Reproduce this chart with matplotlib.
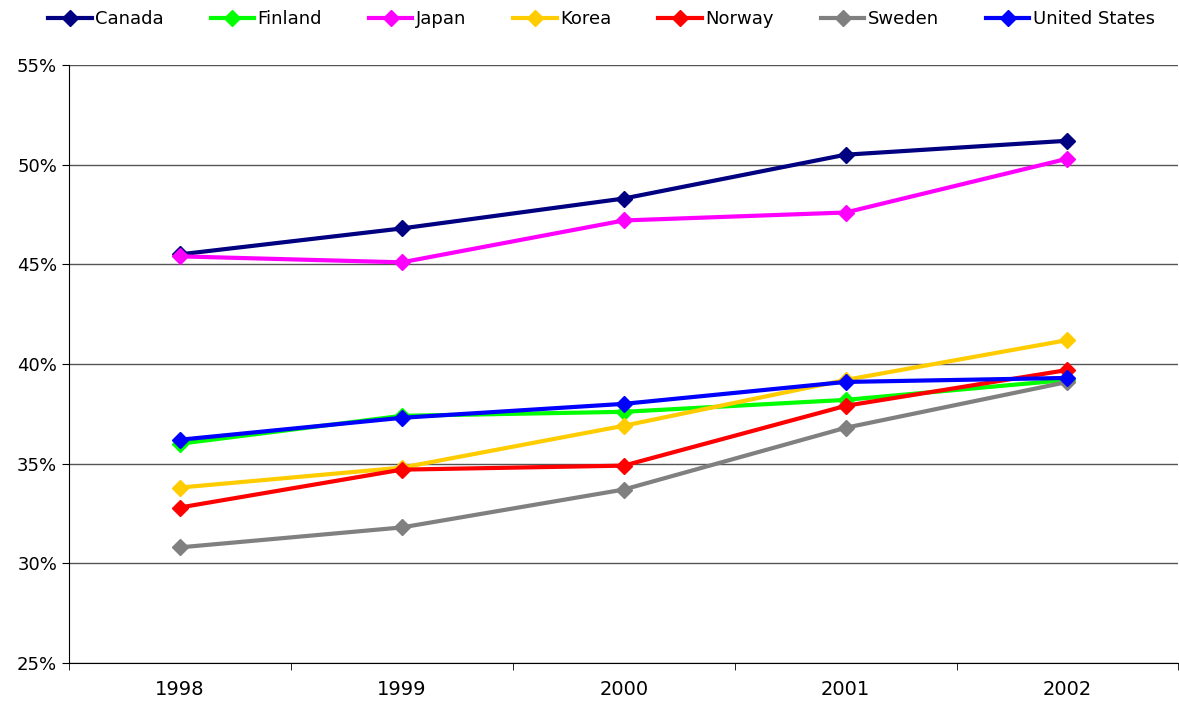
import matplotlib.pyplot as plt
import numpy as np
from matplotlib.ticker import FixedLocator, PercentFormatter

years = ["1998", "1999", "2000", "2001", "2002"]

canada = [45.5, 46.8, 48.3, 50.5, 51.2]
finland = [36.0, 37.4, 37.6, 38.2, 39.2]
japan = [45.4, 45.1, 47.2, 47.6, 50.3]
korea = [33.8, 34.8, 36.9, 39.2, 41.2]
norway = [32.8, 34.7, 34.9, 37.9, 39.7]
sweden = [30.8, 31.8, 33.7, 36.8, 39.1]
united_states = [36.2, 37.3, 38.0, 39.1, 39.3]

series = [
    ("Canada", canada, "#000080"),
    ("Finland", finland, "#00ff00"),
    ("Japan", japan, "#ff00ff"),
    ("Korea", korea, "#ffcc00"),
    ("Norway", norway, "#ff0000"),
    ("Sweden", sweden, "#808080"),
    ("United States", united_states, "#0000ff"),
]

plt.rcParams["font.family"] = "DejaVu Sans"
fig = plt.figure(figsize=(11.79, 7.05), dpi=100)
ax = fig.add_axes([0.0585, 0.0596, 0.941, 0.8482])

x = np.arange(len(years))
for name, vals, col in series:
    ax.plot(x, vals, color=col, lw=3, marker="D", ms=8, label=name)

ax.set_xlim(-0.5, len(years) - 0.5)
ax.set_ylim(25, 55)
ax.set_yticks(np.arange(25, 56, 5))
ax.yaxis.set_major_formatter(PercentFormatter(decimals=0))
ax.set_xticks(x)
ax.set_xticklabels(years)
ax.xaxis.set_minor_locator(FixedLocator(np.arange(-0.5, len(years), 1)))
ax.tick_params(axis="x", which="major", length=0, pad=12, labelsize=14)
ax.tick_params(axis="x", which="minor", length=5, direction="out")
ax.tick_params(axis="y", length=5, direction="out", labelsize=13)
ax.grid(axis="y", color="#555555", lw=1)
ax.set_axisbelow(True)
for s in ["top", "right"]:
    ax.spines[s].set_visible(False)

ax.legend(loc="lower center", bbox_to_anchor=(0.48, 1.05), ncol=7, frameon=False,
          fontsize=13, handlelength=2.4, columnspacing=2.6, handletextpad=0.2,
          borderaxespad=0)

fig.savefig("out.png", dpi=100)
